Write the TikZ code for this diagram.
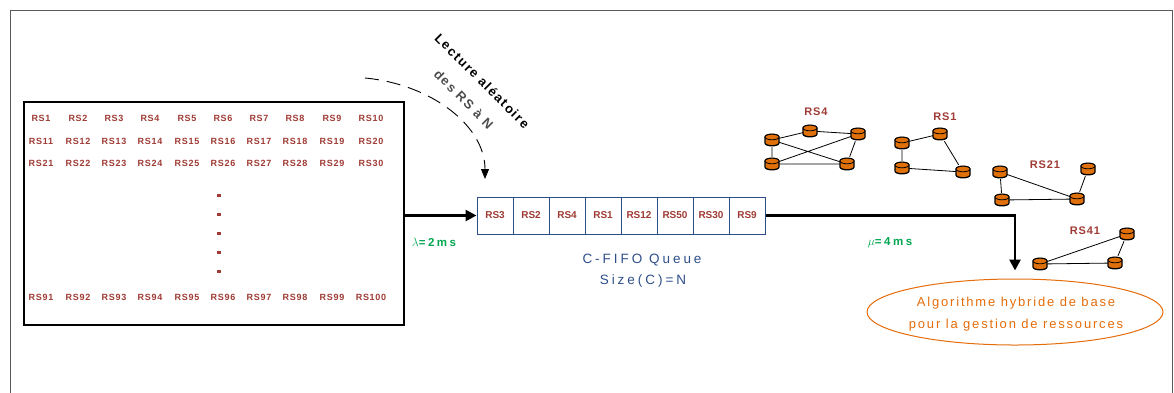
\documentclass[tikz,border=0pt]{standalone}
\usepackage{fontspec}
\setmainfont{Liberation Sans}
\usetikzlibrary{arrows.meta,shapes.geometric}
\definecolor{rsred}{HTML}{9E3B34}
\definecolor{qblue}{HTML}{2E4E8A}
\definecolor{rategreen}{HTML}{00A550}
\definecolor{algorange}{HTML}{E46C0A}
\definecolor{nodeorange}{HTML}{E0700A}
\tikzset{
  rslabel/.style={text=rsred,font=\fontsize{9}{10}\selectfont\bfseries\addfontfeature{LetterSpace=8},inner sep=0pt},
  glabel/.style={text=rsred,font=\fontsize{11}{12}\selectfont\bfseries\addfontfeature{LetterSpace=8},inner sep=0pt},
  qcell/.style={draw=qblue,line width=1pt,minimum width=36pt,minimum height=37pt,inner sep=0pt,text=rsred,font=\fontsize{10}{11}\selectfont\bfseries},
  rate/.style={text=rategreen,font=\fontsize{11.5}{12}\selectfont\bfseries\addfontfeature{LetterSpace=22},inner sep=0pt},
  qtext/.style={text=qblue,font=\fontsize{13.5}{14}\selectfont\addfontfeature{LetterSpace=22},inner sep=0pt},
  vert/.style={inner sep=0pt,minimum size=14pt},
  cylbody/.style={draw=black,line width=1.3pt,fill=nodeorange},
  gedge/.style={draw=black,line width=0.8pt},
  bigarrow/.style={line width=2.6pt,-{Triangle[length=11pt,width=11pt]}},
  rotlabel/.style={font=\fontsize{13}{26}\selectfont\bfseries\addfontfeature{LetterSpace=12},inner sep=0pt,rotate=-45,align=center},
}
\begin{document}
\begin{tikzpicture}[x=1pt,y=-1pt]
\useasboundingbox (0,0) rectangle (1174,392);
% outer frame
\draw[gray!70!black,line width=0.8pt] (10,10) rectangle (1172,400);
% source box
\node[draw=black,line width=2pt,minimum width=380pt,minimum height=223pt,inner sep=0pt] (src) at (214,213.5) {};
\foreach \c [count=\i] in {41,78,114,150,187,223,259,295,332,371}{
  \pgfmathtruncatemacro{\a}{\i}
  \pgfmathtruncatemacro{\b}{\i+10}
  \pgfmathtruncatemacro{\d}{\i+20}
  \pgfmathtruncatemacro{\e}{\i+90}
  \node[rslabel] (gA\i) at (\c,118) {RS\a};
  \node[rslabel] (gB\i) at (\c,141) {RS\b};
  \node[rslabel] (gC\i) at (\c,163) {RS\d};
  \node[rslabel] (gD\i) at (\c,297) {RS\e};
}
\foreach \y [count=\k] in {195,214,233,252,271}{
  \node[fill=rsred,minimum width=4pt,minimum height=3pt,inner sep=0pt] (dot\k) at (219,\y) {};
}
% queue
\foreach \t [count=\i] in {RS3,RS2,RS4,RS1,RS12,RS50,RS30,RS9}{
  \node[qcell] (q\i) at ({459+36*\i},215.5) {\t};
}
\draw[bigarrow] (src.east |- q1.west) -- (q1.west);
\node[rate] (lam) at (434,242) {$\lambda$=2ms};
\node[qtext] (qt1) at (642,260) {C-FIFO Queue};
\node[qtext] (qt2) at (643,281) {Size(C)=N};
% algorithm ellipse
\node[ellipse,draw=algorange,line width=1pt,minimum width=296pt,minimum height=66pt,inner sep=0pt] (alg) at (1015,312) {};
\node[text=algorange,font=\fontsize{13}{22}\selectfont\addfontfeature{LetterSpace=14},align=center,inner sep=0pt] (algtxt) at (1016,314) {Algorithme hybride de base\\pour la gestion de ressources};
\draw[bigarrow,shorten >=8pt] (q8.east) -| (alg.north);
\node[rate] (mu) at (890,243) {$\mu$=4ms};
% cyclic read arrow
\coordinate (dstart) at (365,78);
\coordinate (dend) at (485,179);
\draw[line width=0.9pt,dash pattern=on 14pt off 8pt,-{Triangle[length=10pt,width=8pt]}] (dstart) .. controls (430,84) and (485,125) .. (dend);
\node[rotlabel] (rl) at (473,90) {Lecture aléatoire\\{\color{black!70}des RS à N}};
% graph RS4
\node[glabel] (l1) at (816,112) {RS4};
\node[vert] (a1) at (772,140) {};
\node[vert] (a2) at (810,131) {};
\node[vert] (a3) at (858,134) {};
\node[vert] (a4) at (772,164) {};
\node[vert] (a5) at (847,164) {};
\path[gedge] (a1) -- (a2) (a2) -- (a3) (a1) -- (a5) (a4) -- (a3) (a1) -- (a4) (a4) -- (a5) (a3) -- (a5);
% graph RS1
\node[glabel] (l2) at (945,117) {RS1};
\node[vert] (b1) at (902,143) {};
\node[vert] (b2) at (940,134) {};
\node[vert] (b3) at (963,172) {};
\node[vert] (b4) at (902,168) {};
\path[gedge] (b1) -- (b2) (b2) -- (b3) (b1) -- (b4) (b4) -- (b3);
% graph RS21
\node[glabel] (l3) at (1045,165) {RS21};
\node[vert] (c1) at (1000,172) {};
\node[vert] (c2) at (1088,169) {};
\node[vert] (c3) at (1002,200) {};
\node[vert] (c4) at (1077,199) {};
\path[gedge] (c1) -- (c4) (c1) -- (c3) (c3) -- (c4) (c2) -- (c4);
% graph RS41
\node[glabel] (l4) at (1085,231) {RS41};
\node[vert] (d1) at (1040,264) {};
\node[vert] (d2) at (1127,234) {};
\node[vert] (d3) at (1115,263) {};
\path[gedge] (d1) -- (d2) (d1) -- (d3) (d2) -- (d3);
% cylinders drawn on the vertices
\foreach \n in {a1,a2,a3,a4,a5,b1,b2,b3,b4,c1,c2,c3,c4,d1,d2,d3}{
  \begin{scope}[shift={(\n.center)},x=1pt,y=1pt]
    \path[cylbody] (-7,3) -- (-7,-3) arc[start angle=180,end angle=360,x radius=7,y radius=2.8] -- (7,3) arc[start angle=0,end angle=180,x radius=7,y radius=2.8] -- cycle;
    \path[cylbody,line width=0.8pt] (0,3) ellipse[x radius=7,y radius=2.8];
  \end{scope}
}
\end{tikzpicture}
\end{document}
